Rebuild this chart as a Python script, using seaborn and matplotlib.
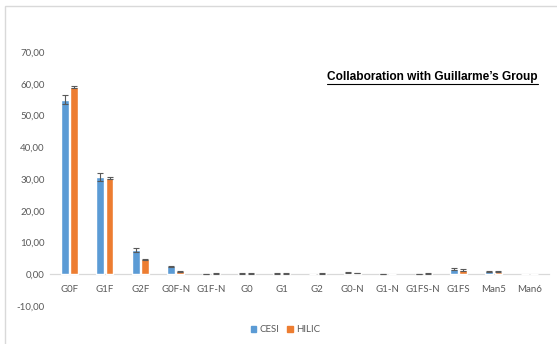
import numpy as np
import pandas as pd
import matplotlib
matplotlib.use("Agg")
import matplotlib.pyplot as plt
from matplotlib.lines import Line2D
from matplotlib.patches import Rectangle
from matplotlib.ticker import FuncFormatter
import seaborn as sns

glycans = ["G0F", "G1F", "G2F", "G0F-N", "G1F-N", "G0", "G1", "G2",
           "G0-N", "G1-N", "G1FS-N", "G1FS", "Man5", "Man6"]
cesi = [54.9, 30.6, 7.6, 2.5, 0.1, 0.3, 0.3, 0.0, 0.5, 0.2, 0.1, 1.6, 1.0, 0.0]
hilic = [59.0, 30.3, 4.7, 1.0, 0.3, 0.3, 0.3, 0.3, 0.4, 0.0, 0.3, 1.4, 0.9, 0.0]
cesi_err = [1.4, 1.2, 0.7, 0.1, 0.05, 0.05, 0.05, 0.0, 0.1, 0.05, 0.05, 0.3, 0.1, 0.0]
hilic_err = [0.3, 0.2, 0.2, 0.1, 0.05, 0.05, 0.05, 0.05, 0.05, 0.0, 0.05, 0.2, 0.1, 0.0]
methods = ["CESI", "HILIC"]
colors = ["#5B9BD5", "#ED7D31"]

sns.set_style("white")
plt.rcParams["font.family"] = ["Lato", "DejaVu Sans"]

df = pd.DataFrame({
    "glycan": glycans * 2,
    "method": ["CESI"] * len(glycans) + ["HILIC"] * len(glycans),
    "value": cesi + hilic,
})
errs = {"CESI": cesi_err, "HILIC": hilic_err}

fig = plt.figure(figsize=(5.57, 3.44), dpi=100)
ax = fig.add_axes([0.09, 0.11, 0.895, 0.739])

sns.barplot(data=df, x="glycan", y="value", hue="method", order=glycans,
            hue_order=methods, palette=colors, width=0.52, gap=0.15,
            errorbar=None, saturation=1, ax=ax, legend=False)

# custom error bars on top of the bars
for container, m in zip(ax.containers, methods):
    xs = np.array([p.get_x() + p.get_width() / 2 for p in container.patches])
    ys = np.array([p.get_height() for p in container.patches])
    e = np.array(errs[m])
    mask = e > 0
    ax.errorbar(xs[mask], ys[mask], yerr=e[mask], fmt="none",
                ecolor="#595959", elinewidth=0.8, capsize=2.2,
                capthick=0.8, zorder=5)

ax.set_ylim(-10, 70)
ax.set_yticks(np.arange(-10, 71, 10))
ax.yaxis.set_major_formatter(FuncFormatter(lambda v, p: f"{v:.2f}".replace(".", ",")))
ax.set_xlim(-0.55, len(glycans) - 0.45)
for s in ax.spines.values():
    s.set_visible(False)
# zero line doubles as the category axis
ax.spines["bottom"].set_visible(True)
ax.spines["bottom"].set_position(("data", 0))
ax.spines["bottom"].set_color("#d9d9d9")
ax.spines["bottom"].set_linewidth(0.9)
ax.spines["bottom"].set_zorder(0)
ax.tick_params(axis="both", length=0, labelsize=7, labelcolor="#595959")
ax.tick_params(axis="y", pad=4)
ax.tick_params(axis="x", pad=8)
ax.set_xlabel("")
ax.set_ylabel("")

handles = [Rectangle((0, 0), 1, 1, color=c) for c in colors]
fig.legend(handles, methods, loc="center", bbox_to_anchor=(0.512, 0.042), ncol=2,
           frameon=False, fontsize=7, handlelength=0.6, handleheight=0.6,
           handletextpad=0.3, columnspacing=0.8, labelcolor="#595959")

title = fig.text(0.966, 0.776, "Collaboration with Guillarme\u2019s Group",
                 ha="right", va="center", fontsize=8.6, fontweight="bold",
                 family="Liberation Sans", color="black")
fig.canvas.draw()
bb = title.get_window_extent(fig.canvas.get_renderer()).transformed(fig.transFigure.inverted())
fig.add_artist(Line2D([bb.x0, bb.x1], [bb.y0 - 0.002, bb.y0 - 0.002],
                      transform=fig.transFigure, color="black", linewidth=0.8))

fig.add_artist(Rectangle((0.009, -0.1), 1.2, 1.083, transform=fig.transFigure,
                         fill=False, edgecolor="#d9d9d9", linewidth=1))

fig.savefig("out.png", dpi=100)
